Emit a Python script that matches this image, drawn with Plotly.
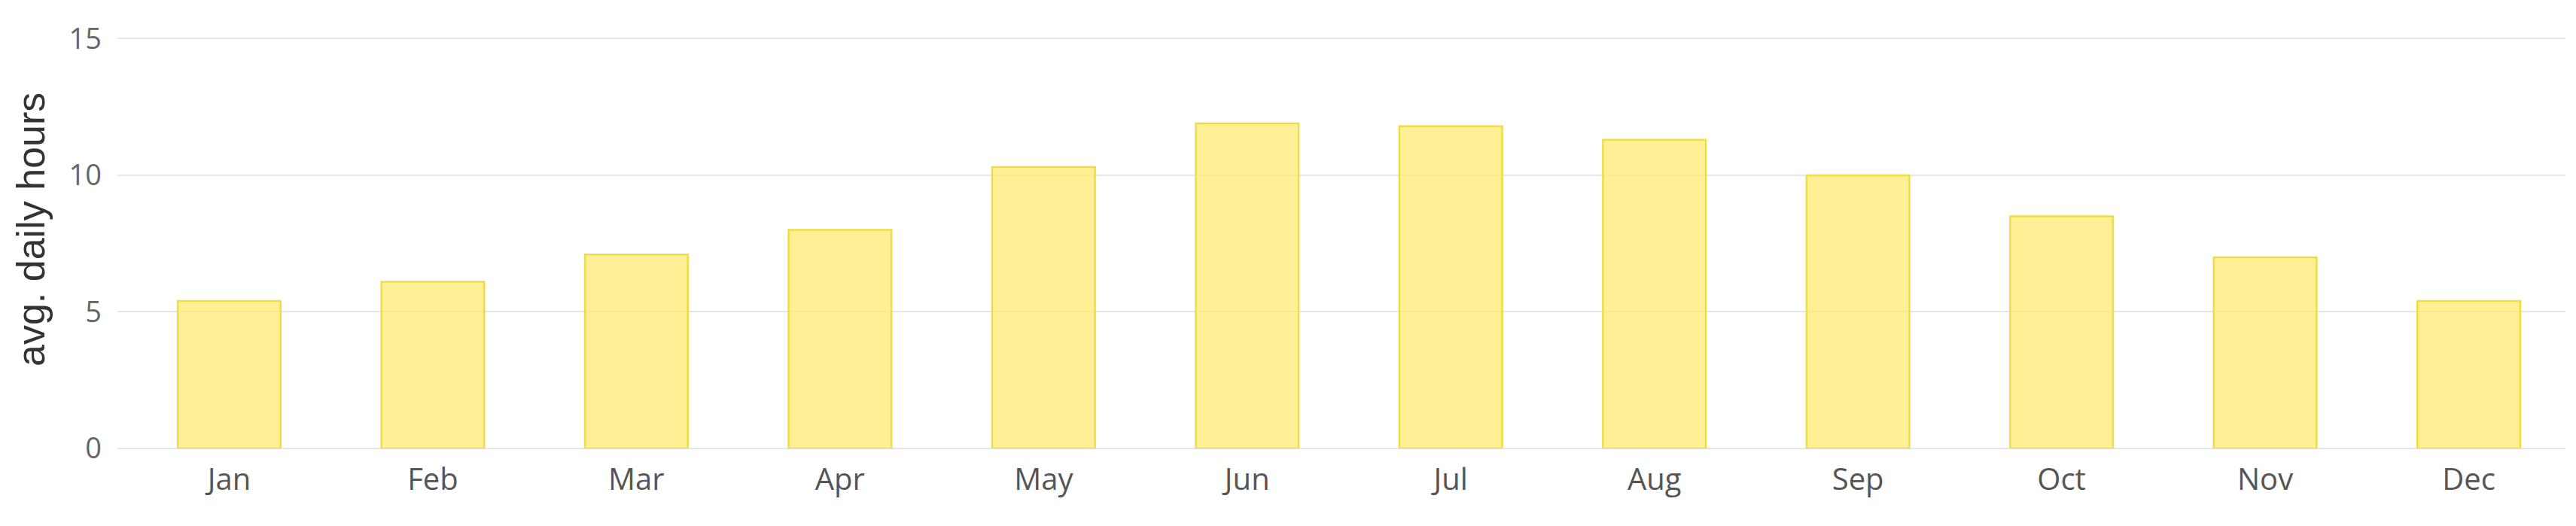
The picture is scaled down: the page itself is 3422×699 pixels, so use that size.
import plotly.graph_objects as go

months = ["Jan", "Feb", "Mar", "Apr", "May", "Jun", "Jul", "Aug", "Sep", "Oct", "Nov", "Dec"]
sun_hours = [5.4, 6.1, 7.1, 8.0, 10.3, 11.9, 11.8, 11.3, 10.0, 8.5, 7.0, 5.4]
y_ticks = [0, 5, 10, 15]
y_title = "avg. daily hours"

W, H = 3422, 699
L, R, T, B = 148, 22, 40, 111

fig = go.Figure()
fig.add_trace(go.Bar(
    x=months,
    y=sun_hours,
    width=0.505,
    marker=dict(color="rgba(255,234,110,0.72)",
                line=dict(color="rgba(240,218,60,0.95)", width=2.5)),
    showlegend=False,
    hoverinfo="x+y",
))

fig.update_layout(
    width=W, height=H,
    margin=dict(l=L, r=R, t=T, b=B, autoexpand=False),
    paper_bgcolor="white",
    plot_bgcolor="white",
    bargap=0.5,
    xaxis=dict(
        type="category",
        categoryorder="array",
        categoryarray=months,
        range=[-0.549, 11.475],
        showgrid=False,
        showline=False,
        zeroline=False,
        ticks="",
        tickfont=dict(family="Open Sans", size=40, color="#555555"),
        ticklabelstandoff=14,
    ),
    yaxis=dict(
        range=[0, 15.096],
        tickvals=y_ticks,
        ticktext=[str(v) for v in y_ticks],
        showgrid=True,
        gridcolor="#e6e6e6",
        gridwidth=2,
        zeroline=True,
        zerolinecolor="#e6e6e6",
        zerolinewidth=2,
        showline=False,
        ticks="",
        tickfont=dict(family="Open Sans", size=38, color="#666666"),
        ticklabelstandoff=20,
    ),
    annotations=[dict(
        text=y_title,
        xref="paper", yref="paper",
        x=(33 - L) / (W - L - R),
        y=(588 - 297) / (H - T - B),
        xanchor="center", yanchor="middle",
        textangle=-90,
        showarrow=False,
        font=dict(family="Liberation Sans, Arial", size=52, color="#333333"),
    )],
)

fig.write_html("out.html")
